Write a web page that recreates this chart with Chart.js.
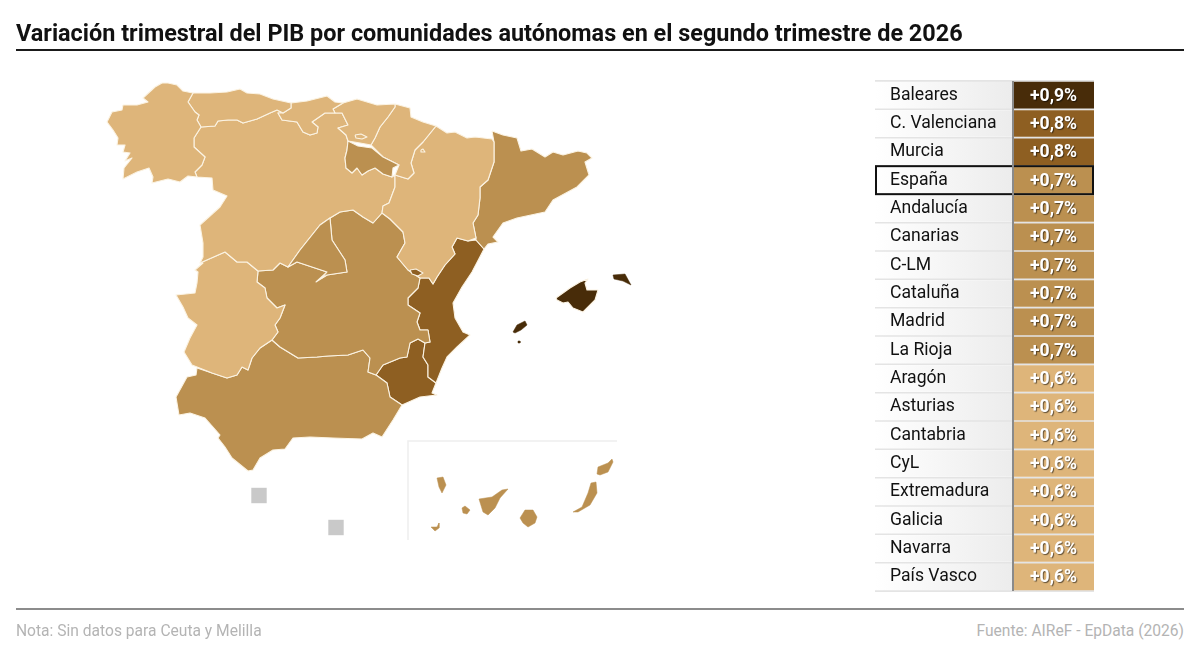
<!DOCTYPE html>
<html lang="es">
<head>
<meta charset="utf-8">
<title>Variación trimestral del PIB</title>
<script src="https://cdn.jsdelivr.net/npm/chart.js@4"></script>
<style>
html,body{margin:0;padding:0;background:#fff;width:1200px;height:661px;overflow:hidden;font-family:Roboto,sans-serif}
#title{position:absolute;left:16px;top:18px;font:700 23.43px/30px Roboto,sans-serif;color:#111;white-space:nowrap}
#rule1{position:absolute;left:16px;top:49px;width:1168px;height:2px;background:#1a1a1a}
#rule2{position:absolute;left:16px;top:608px;width:1168px;height:2px;background:#8c8c8c}
#note,#source{position:absolute;top:622px;font:400 15.6px/18px Roboto,sans-serif;color:#b4b4b4;white-space:nowrap}
#note{left:16px}
#source{right:16px}
#map{position:absolute;left:0;top:0}
#table{position:absolute;left:874px;top:79px}
</style>
</head>
<body>
<canvas id="map" width="860" height="661"></canvas>
<canvas id="table" width="221" height="514"></canvas>
<div id="title">Variación trimestral del PIB por comunidades autónomas en el segundo trimestre de 2026</div>
<div id="rule1"></div>
<div id="rule2"></div>
<div id="note">Nota: Sin datos para Ceuta y Melilla</div>
<div id="source">Fuente: AIReF - EpData (2026)</div>
<script>
// Table data
const categories = ['Baleares','C. Valenciana','Murcia','España','Andalucía','Canarias','C-LM','Cataluña','Madrid','La Rioja','Aragón','Asturias','Cantabria','CyL','Extremadura','Galicia','Navarra','País Vasco'];
const values = [0.9,0.8,0.8,0.7,0.7,0.7,0.7,0.7,0.7,0.7,0.6,0.6,0.6,0.6,0.6,0.6,0.6,0.6];

// Map outlines
const galicia = [[162,83],[168,83],[177,85],[183,91],[193,93],[188,102],[195,112],[199,115],[197,120],[201,127],[194,138],[194,147],[205,157],[202,165],[195,172],[197,177],[188,176],[180,182],[168,179],[152,183],[153,177],[149,168],[137,172],[123,179],[124,168],[132,158],[125,161],[130,153],[123,152],[125,145],[117,145],[118,138],[113,130],[107,122],[112,112],[122,110],[123,105],[137,105],[148,102],[143,98],[155,87]];
const asturias = [[193,93],[210,93],[227,92],[240,89],[247,93],[260,94],[273,99],[291,103],[291,108],[283,113],[277,110],[270,113],[257,119],[243,123],[237,120],[228,120],[218,121],[215,126],[201,127],[197,120],[199,115],[195,112],[188,102]];
const cantabria = [[291,103],[307,101],[327,96],[335,102],[343,103],[333,109],[335,113],[325,113],[312,122],[318,127],[317,133],[310,135],[303,132],[297,122],[282,120],[278,113],[283,113],[291,108]];
const paisVasco = [[343,103],[357,99],[377,105],[395,104],[395,107],[388,117],[380,127],[375,138],[371,145],[360,143],[348,141],[346,135],[338,128],[348,125],[342,113],[335,113],[333,109]];
const trevino = [[355,135],[361,134],[367,137],[362,139],[356,138]];
const navarra = [[395,104],[410,108],[411,117],[423,122],[436,126],[423,142],[415,150],[411,163],[414,173],[408,179],[395,175],[399,165],[383,157],[371,145],[375,138],[380,127],[388,117],[395,107]];
const laRioja = [[348,141],[358,146],[372,148],[383,157],[399,165],[393,168],[392,177],[383,174],[375,168],[368,171],[362,175],[357,168],[352,173],[346,168],[345,158],[347,150]];
const aragon = [[436,126],[447,133],[455,132],[467,138],[475,137],[492,139],[494,142],[494,162],[488,180],[480,187],[480,198],[478,215],[473,223],[476,238],[468,241],[457,238],[452,247],[455,254],[445,265],[437,277],[433,284],[429,278],[420,278],[408,270],[397,257],[405,243],[403,232],[390,219],[382,213],[383,206],[389,203],[392,195],[395,187],[395,175],[408,179],[414,173],[411,163],[415,150],[423,142]];
const petilla = [[421,150],[423,149],[425,152],[421,152]];
const cataluna = [[492,131],[503,135],[517,138],[521,151],[532,149],[545,157],[553,152],[563,155],[578,151],[587,153],[592,158],[585,162],[589,175],[577,187],[553,200],[545,212],[517,218],[503,223],[493,237],[498,242],[488,244],[484,249],[476,240],[476,238],[473,223],[478,215],[480,198],[480,187],[488,180],[494,162],[494,142]];
const valencia = [[457,238],[468,241],[476,240],[484,249],[472,272],[462,287],[453,303],[455,318],[463,332],[470,335],[457,347],[447,357],[442,368],[436,383],[428,377],[428,365],[423,357],[425,343],[430,342],[428,330],[420,330],[417,322],[420,313],[408,305],[408,298],[418,288],[420,278],[429,278],[433,284],[437,277],[445,265],[455,254],[452,247]];
const ademuz = [[410,270],[416,269],[423,273],[418,276],[412,274]];
const murcia = [[418,339],[425,343],[423,357],[428,365],[428,377],[436,383],[432,393],[437,395],[420,397],[402,405],[390,397],[387,383],[376,375],[383,365],[400,358],[407,357],[410,343]];
const andalucia = [[197,368],[212,373],[227,378],[237,375],[242,367],[248,370],[252,358],[260,348],[272,340],[280,347],[298,358],[317,357],[328,356],[348,355],[363,350],[370,358],[368,372],[376,375],[387,383],[390,397],[402,405],[393,420],[382,437],[373,433],[362,439],[333,438],[310,437],[293,438],[285,449],[273,450],[260,458],[253,470],[248,471],[232,458],[225,447],[218,438],[220,435],[205,418],[190,413],[179,415],[176,397],[187,377],[196,375]];
const extremadura = [[200,263],[225,252],[237,262],[247,262],[258,271],[257,282],[265,288],[267,298],[277,308],[285,305],[280,318],[275,325],[278,332],[272,340],[260,348],[252,358],[248,370],[242,367],[237,375],[227,378],[212,373],[197,367],[192,365],[184,352],[190,338],[197,325],[188,318],[183,307],[176,295],[195,293],[197,283],[198,272],[195,270],[203,263]];
const castillaLeon = [[197,177],[212,178],[213,190],[227,196],[220,207],[200,225],[203,243],[203,257],[200,263],[225,252],[237,262],[247,262],[258,271],[273,270],[280,263],[288,267],[300,250],[308,240],[320,225],[330,218],[340,212],[353,210],[363,217],[373,223],[382,213],[383,206],[389,203],[392,195],[395,187],[395,175],[392,177],[383,174],[375,168],[368,171],[362,175],[357,168],[352,173],[346,168],[345,158],[347,150],[348,141],[346,135],[338,128],[348,125],[342,113],[335,113],[325,113],[312,122],[318,127],[317,133],[310,135],[303,132],[297,122],[282,120],[278,113],[283,113],[277,110],[270,113],[257,119],[243,123],[237,120],[228,120],[218,121],[215,126],[201,127],[194,138],[194,147],[205,157],[202,165],[195,172]];
const madrid = [[330,218],[332,240],[345,260],[347,272],[327,275],[322,278],[327,272],[297,262],[288,267],[300,250],[308,240],[320,225]];
const castillaMancha = [[258,271],[273,270],[280,263],[288,267],[297,262],[327,272],[316,282],[327,275],[347,272],[345,260],[332,240],[330,218],[340,212],[353,210],[363,217],[373,223],[382,213],[390,219],[403,232],[405,243],[397,257],[408,270],[420,278],[418,288],[408,298],[408,305],[420,313],[417,322],[420,330],[428,330],[430,342],[425,343],[418,339],[410,343],[407,357],[400,358],[383,365],[376,375],[368,372],[370,358],[363,350],[348,355],[328,356],[317,357],[298,358],[280,347],[272,340],[278,332],[275,325],[280,318],[285,305],[277,308],[267,298],[265,288],[257,282]];
const mallorca = [[556,298],[570,288],[580,282],[588,279],[585,283],[587,290],[598,290],[595,300],[583,312],[573,308],[568,302],[563,303],[557,300]];
const menorca = [[613,275],[625,274],[631,285],[623,281],[614,279]];
const ibiza = [[513,332],[517,325],[525,321],[527,325],[521,330],[515,333]];
const formentera = [[518,341],[520,341],[520,343],[518,343]];
const laPalma = [[437,478],[443,477],[446,485],[442,493],[439,487]];
const elHierro = [[431,527],[437,527],[439,523],[439,528],[435,531]];
const laGomera = [[462,508],[465,506],[470,510],[467,514],[463,513]];
const tenerife = [[479,499],[492,497],[502,490],[508,489],[500,498],[495,508],[488,515],[483,512]];
const granCanaria = [[520,518],[525,510],[533,510],[537,517],[535,523],[528,527],[523,523]];
const fuerteventura = [[573,512],[582,507],[588,493],[591,483],[596,482],[597,493],[590,505],[578,512]];
const lanzarote = [[597,474],[598,467],[608,463],[612,459],[613,462],[608,472],[600,475]];
const canariasFrame = [[617,441],[408,441],[408,540]];
const noData = [[259,495.5],[336,527.5]];

const regions = [
  [trevino,0.6],[petilla,0.6],[ademuz,0.8],[laRioja,0.7],[madrid,0.7],
  [galicia,0.6],[asturias,0.6],[cantabria,0.6],[paisVasco,0.6],[navarra,0.6],[aragon,0.6],
  [castillaLeon,0.6],[extremadura,0.6],[cataluna,0.7],[castillaMancha,0.7],[andalucia,0.7],
  [valencia,0.8],[murcia,0.8],[mallorca,0.9],[menorca,0.9],[ibiza,0.9],[formentera,0.9],
  [laPalma,0.7],[elHierro,0.7],[laGomera,0.7],[tenerife,0.7],[granCanaria,0.7],[fuerteventura,0.7],[lanzarote,0.7]
];

function colorFor(v){
  if (v >= 0.85) return '#482c09';
  if (v >= 0.75) return '#8e5f22';
  if (v >= 0.65) return '#bb9050';
  return '#deb57a';
}
const toPts = a => a.map(p => ({x:p[0], y:p[1]}));

const mapDatasets = regions.map(([shape, v]) => {
  const small = shape.length < 10 && shape !== trevino && shape !== ademuz && shape !== petilla;
  return {
    data: toPts(shape.concat([shape[0]])),
    showLine: true,
    fill: 'shape',
    backgroundColor: colorFor(v),
    borderColor: small ? colorFor(v) : '#fbf3e3',
    borderWidth: small ? 0.5 : 1.1,
    borderJoinStyle: 'round',
    tension: 0,
    pointRadius: 0,
    pointHoverRadius: 0
  };
});
mapDatasets.push({
  data: toPts(canariasFrame), showLine: true, fill: false,
  borderColor: '#eeeeee', borderWidth: 1.5, pointRadius: 0, tension: 0
});
mapDatasets.push({
  data: toPts(noData), showLine: false,
  pointStyle: 'rect', pointRadius: 10.9, pointBackgroundColor: '#c9c9c9', pointBorderWidth: 0
});

new Chart(document.getElementById('map'), {
  type: 'scatter',
  data: { datasets: mapDatasets },
  options: {
    responsive: false, animation: false, events: [],
    layout: { padding: 0, autoPadding: false },
    plugins: { legend: {display:false}, tooltip: {enabled:false}, title:{display:false} },
    scales: {
      x: { type:'linear', min:0, max:860, display:false },
      y: { type:'linear', min:0, max:661, reverse:true, display:false }
    }
  }
});

// Table: label cell spans -138..0, value cell 0..81 on the x scale
const labelCell = categories.map(() => [-138, 0]);
const valueCell = categories.map(() => [0.5, 81]);

const tablePlugin = {
  id: 'tableMarks',
  afterDatasetsDraw(chart) {
    const ctx = chart.ctx, meta = chart.getDatasetMeta(1);
    ctx.save();
    ctx.font = '700 17.6px Roboto, sans-serif';
    ctx.textAlign = 'center';
    ctx.textBaseline = 'middle';
    meta.data.forEach((bar, i) => {
      const txt = '+' + values[i].toFixed(1).replace('.', ',') + '%';
      ctx.shadowColor = 'rgba(0,0,0,0.55)';
      ctx.shadowOffsetX = 1; ctx.shadowOffsetY = 1; ctx.shadowBlur = 1;
      ctx.fillStyle = '#fff';
      ctx.fillText(txt, bar.x - 40.5, bar.y + 1);
    });
    ctx.shadowColor = 'transparent';
    const idx = categories.indexOf('España');
    const b = meta.data[idx], a = chart.chartArea;
    ctx.strokeStyle = '#111';
    ctx.lineWidth = 2;
    ctx.strokeRect(a.left + 1, b.y - 14, a.right - a.left - 2, 28);
    ctx.restore();
  }
};

new Chart(document.getElementById('table'), {
  type: 'bar',
  data: {
    labels: categories,
    datasets: [
      {
        data: labelCell,
        backgroundColor(c) {
          const a = c.chart.chartArea;
          if (!a) return '#eee';
          const g = c.chart.ctx.createLinearGradient(a.left, 0, a.left + 138, 0);
          g.addColorStop(0, '#ffffff');
          g.addColorStop(1, '#ececec');
          return g;
        },
        barThickness: 26, grouped: false, borderWidth: 0
      },
      {
        data: valueCell,
        values: values,
        backgroundColor: c => colorFor(values[c.dataIndex]),
        barThickness: 26, grouped: false, borderWidth: 0
      }
    ]
  },
  plugins: [tablePlugin],
  options: {
    indexAxis: 'y',
    responsive: false, animation: false, events: [],
    layout: { padding: { left:1, right:1, top:2, bottom:2 }, autoPadding: false },
    plugins: { legend:{display:false}, tooltip:{enabled:false}, title:{display:false} },
    scales: {
      x: {
        type:'linear', min:-138, max:81,
        position:'bottom',
        afterBuildTicks: s => { s.ticks = [{value:0}]; },
        ticks: { display:false },
        grid: { color:'#8a8a8a', lineWidth:2, drawTicks:false, z:1 },
        border: { display:false }
      },
      y: {
        type:'category',
        afterFit: s => { s.width = 0; s.paddingTop = 0; s.paddingBottom = 0; },
        ticks: { mirror:true, padding:15, z:2, color:'#111', font:{ family:'Roboto', size:17.6, weight:'400' }, autoSkip:false },
        grid: { offset:true, color:'#e4e4e4', lineWidth:2, drawTicks:false },
        border: { display:false }
      }
    }
  }
});
</script>
</body>
</html>
